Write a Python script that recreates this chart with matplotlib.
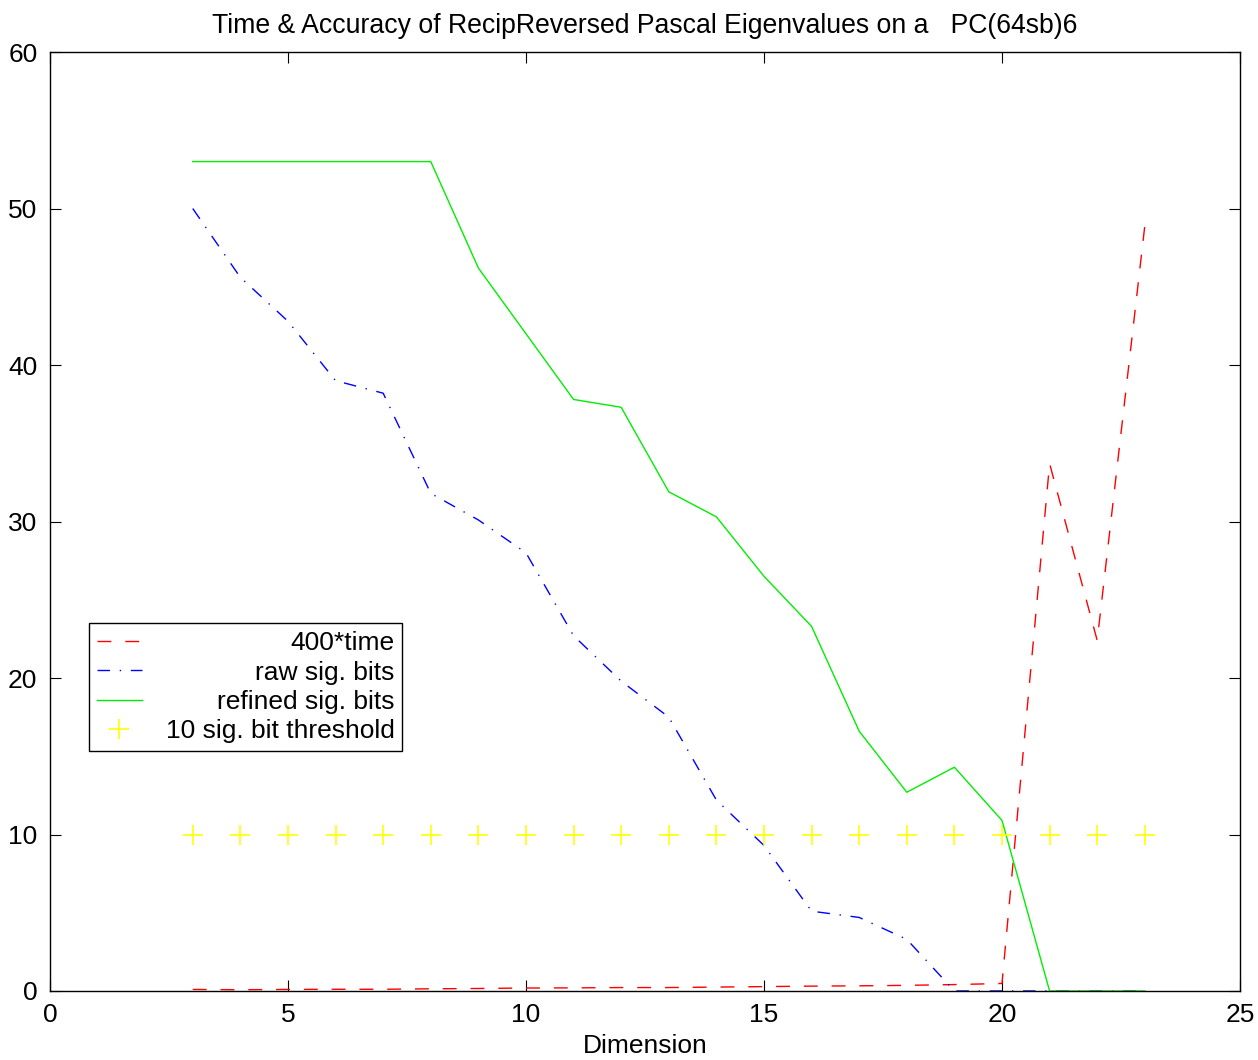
import numpy as np
import matplotlib
matplotlib.use('Agg')
import matplotlib.pyplot as plt

plt.rcParams['font.family'] = ['Liberation Sans', 'DejaVu Sans']

#data
dims = list(range(3, 24))
time400 = [0.10, 0.08, 0.10, 0.11, 0.11, 0.14, 0.16, 0.19, 0.20, 0.22, 0.22,
           0.25, 0.28, 0.31, 0.33, 0.36, 0.41, 0.48, 33.7, 22.4, 48.9]
raw_bits = [50.0, 45.6, 42.8, 39.0, 38.2, 31.8, 30.1, 28.0, 22.7, 19.8, 17.5,
            12.2, 9.3, 5.1, 4.7, 3.3, 0.0, 0.0, 0.0, 0.0, 0.0]
refined_bits = [53.0, 53.0, 53.0, 53.0, 53.0, 53.0, 46.2, 42.0, 37.8, 37.3, 31.9,
                30.3, 26.5, 23.3, 16.6, 12.7, 14.3, 10.9, 0.0, 0.0, 0.0]
threshold = [10] * len(dims)

labels = ['400*time', 'raw sig. bits', 'refined sig. bits', '10 sig. bit threshold']

fig = plt.figure(figsize=(12.58, 10.60), dpi=100)
ax = fig.add_axes([0.0397, 0.0651, 0.946, 0.8858])

ax.plot(dims, time400, color='red', lw=1.0, dashes=(10, 10), label=labels[0])
ax.plot(dims, raw_bits, color='blue', lw=1.0, dashes=(9, 7, 1, 7), label=labels[1])
ax.plot(dims, refined_bits, color='#00ee00', lw=1.0, label=labels[2])
ax.plot(dims, threshold, ls='none', marker='+', ms=14, mew=1.2, color='yellow', label=labels[3])

ax.set_xlim(0, 25)
ax.set_ylim(0, 60)
ax.set_xticks(range(0, 26, 5))
ax.set_yticks(range(0, 61, 10))
ax.tick_params(direction='in', top=True, right=True, length=8, width=0.8, labelsize=19, pad=9)
for s in ax.spines.values():
    s.set_linewidth(1.0)

ax.set_xlabel('Dimension', fontsize=19, labelpad=5)
ax.set_title('Time & Accuracy of RecipReversed Pascal Eigenvalues on a   PC(64sb)6', fontsize=19.2, pad=14)

leg = ax.legend(loc='lower left', bbox_to_anchor=(0.0328, 0.2556), borderaxespad=0,
                fancybox=False, framealpha=1, edgecolor='black', fontsize=19,
                handlelength=1.7, labelspacing=0.2, borderpad=0.3, handletextpad=0.9)
leg.get_frame().set_linewidth(1.0)

# right-align the legend labels like the original
renderer = fig.canvas.get_renderer()
widths = [t.get_window_extent(renderer).width for t in leg.get_texts()]
maxw = max(widths)
for t, w in zip(leg.get_texts(), widths):
    t.set_position((maxw - w, 0))

fig.savefig('out.png', dpi=100)
